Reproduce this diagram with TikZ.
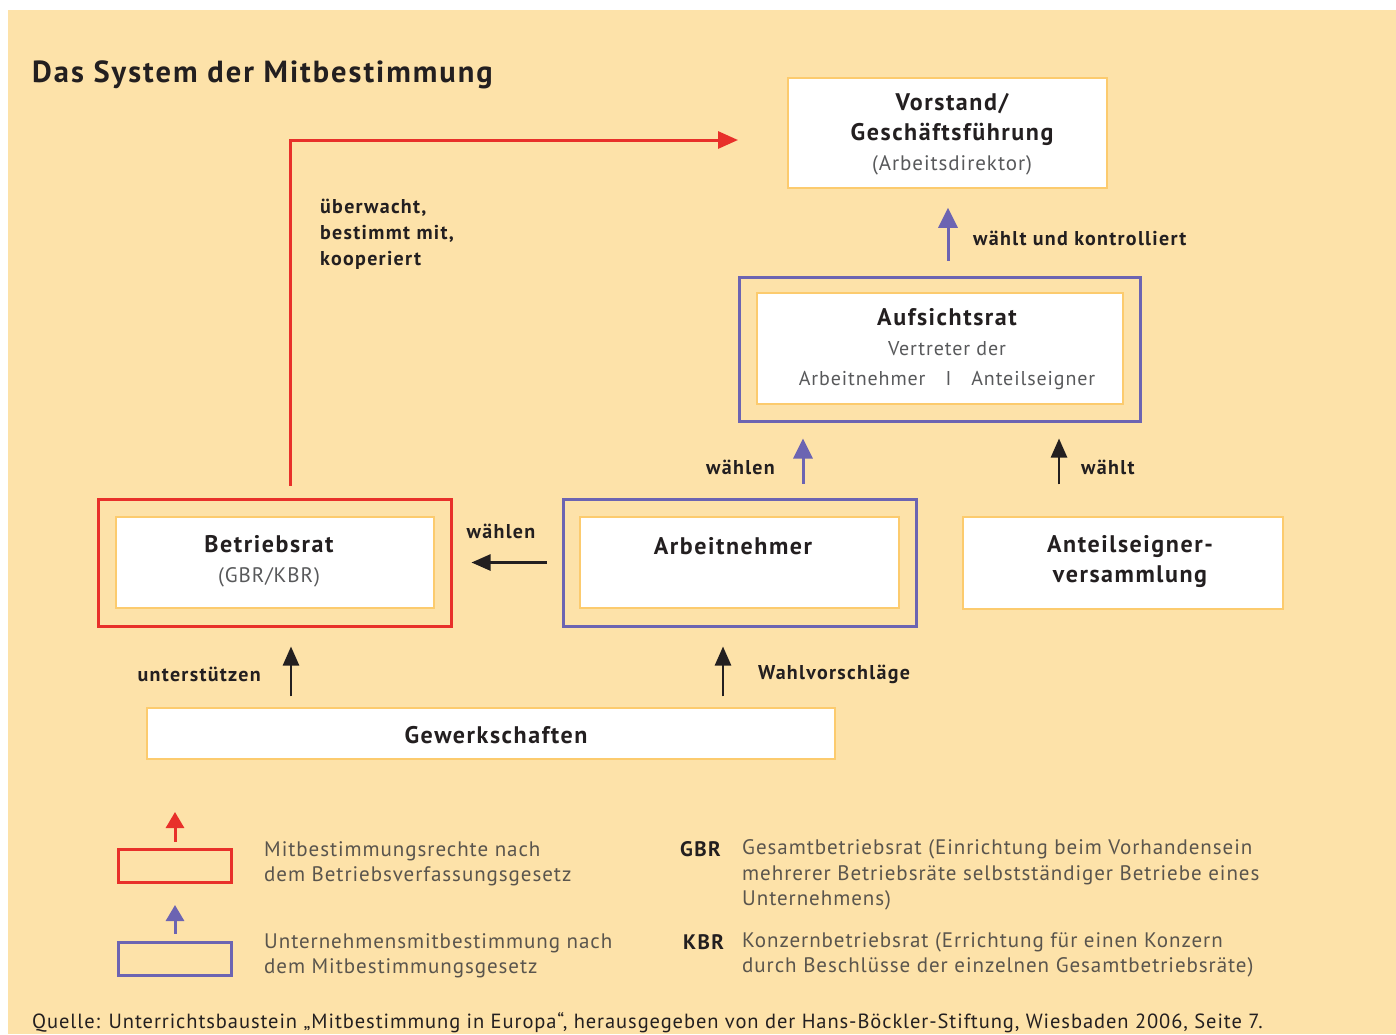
\documentclass[tikz,border=0pt]{standalone}
\usepackage{fontspec}
\setmainfont{PT Sans}[LetterSpace=4.5,BoldFeatures={LetterSpace=6.5}]
\usetikzlibrary{arrows.meta,calc}
\definecolor{bg}{HTML}{FDE2A9}
\definecolor{boxline}{HTML}{FCCB6E}
\definecolor{myred}{HTML}{E8302A}
\definecolor{myblue}{HTML}{6C64B2}
\definecolor{txt}{HTML}{231F20}
\definecolor{graytxt}{HTML}{58595B}
\definecolor{legtxt}{HTML}{5A554D}
\begin{document}
\begin{tikzpicture}[x=1pt,y=-1pt,
  whitebox/.style={draw=boxline,line width=1.5pt,fill=white,rectangle,inner sep=0pt},
  redframe/.style={draw=myred,line width=3pt,rectangle,inner sep=0pt},
  blueframe/.style={draw=myblue,line width=3pt,rectangle,inner sep=0pt},
  boxtext/.style={font=\fontsize{24}{30}\selectfont\bfseries,text=txt,align=center},
  edgelabel/.style={font=\fontsize{20}{26}\selectfont\bfseries,text=txt,inner sep=0pt},
  legendtext/.style={font=\fontsize{21}{25.5}\selectfont,text=legtxt,align=left,inner sep=0pt},
  redarrow/.style={draw=myred,line width=3pt,-{Triangle[length=20pt,width=17pt]}},
  bluearrow/.style={draw=myblue,line width=3pt,-{Triangle[length=20pt,width=19pt]}},
  blackarrow/.style={draw=txt,line width=2.5pt,-{Triangle[length=19pt,width=16pt]}},
  smallred/.style={draw=myred,line width=3pt,-{Triangle[length=16pt,width=18pt]}},
  smallblue/.style={draw=myblue,line width=3pt,-{Triangle[length=16pt,width=18pt]}},
]
\useasboundingbox (0,0) rectangle (1396,1034);
\fill[white] (0,0) rectangle (1396,1034);
\fill[bg] (8,10) rectangle (1396,1034);

% title
\node[anchor=west,inner sep=0pt,font=\fontsize{30.5}{36}\selectfont\bfseries,text=txt] (title) at (32,75) {Das System der Mitbestimmung};

% Vorstand
\node[whitebox,minimum width=319pt,minimum height=110pt] (vs) at (947.5,133) {};
\node[boxtext] (vstext) at (952,134)
  {Vorstand/\\Geschäftsführung\\{\fontsize{21}{30}\selectfont\mdseries\color{graytxt}(Arbeitsdirektor)}};

% Aufsichtsrat
\node[blueframe,minimum width=401pt,minimum height=144pt] (ar) at (939.5,349) {};
\node[whitebox,minimum width=366pt,minimum height=111pt] (ari) at (940,348.5) {};
\node[boxtext] (artext) at (947,349)
  {Aufsichtsrat\\{\fontsize{20}{30}\selectfont\mdseries\color{graytxt}Vertreter der}\\{\fontsize{20}{30}\selectfont\mdseries\color{graytxt}Arbeitnehmer\hspace{20pt}I\hspace{20pt}Anteilseigner}};

% Betriebsrat
\node[redframe,minimum width=353pt,minimum height=127pt] (br) at (274.5,562.5) {};
\node[whitebox,minimum width=318pt,minimum height=91pt] (bri) at (275,562.5) {};
\node[boxtext] (brtext) at (269,561)
  {Betriebsrat\\{\fontsize{21}{30}\selectfont\mdseries\color{graytxt}(GBR/KBR)}};

% Arbeitnehmer
\node[blueframe,minimum width=353pt,minimum height=127pt] (an) at (739.5,562.5) {};
\node[whitebox,minimum width=319pt,minimum height=91pt] (ani) at (739.5,562.5) {};
\node[boxtext] (antext) at (733,546) {Arbeitnehmer};

% Anteilseignerversammlung
\node[whitebox,minimum width=320pt,minimum height=92pt] (ae) at (1123,563) {};
\node[boxtext] (aetext) at (1130,562) {Anteilseigner-\\versammlung};

% Gewerkschaften
\node[whitebox,minimum width=688pt,minimum height=51pt] (gw) at (491,733.5) {};
\node[boxtext] (gwtext) at (496,735) {Gewerkschaften};

% connectors
\coordinate (xr) at (290,0);
\coordinate (redend) at (738,140);
\draw[redarrow,shorten <=12pt] (br.north -| xr) |- (redend);
\node[edgelabel,anchor=west,align=left] (lbl1) at (320,234) {überwacht,\\bestimmt mit,\\kooperiert};

\coordinate (xv) at (948,0);
\draw[bluearrow,shorten <=15pt,shorten >=19pt] (ar.north -| xv) -- (vs.south -| xv);
\node[edgelabel,anchor=west] (lbl2) at (973,238) {wählt und kontrolliert};

\coordinate (xw) at (803,0);
\draw[bluearrow,shorten <=14pt,shorten >=16pt] (an.north -| xw) -- (ar.south -| xw);
\node[edgelabel,anchor=east] (lbl3) at (775,467) {wählen};

\coordinate (xk) at (1059,0);
\draw[blackarrow,shorten <=32pt,shorten >=16pt] (ae.north -| xk) -- (ar.south -| xk);
\node[edgelabel,anchor=west] (lbl4) at (1081,467) {wählt};

\draw[blackarrow,shorten <=15pt,shorten >=19pt] (an.west) -- (br.east);
\node[edgelabel] (lbl5) at (501,531) {wählen};

\coordinate (xu) at (291,0);
\draw[blackarrow,shorten <=11pt,shorten >=19pt] (gw.north -| xu) -- (br.south -| xu);
\node[edgelabel,anchor=east] (lbl6) at (261,674) {unterstützen};

\coordinate (xp) at (723,0);
\draw[blackarrow,shorten <=11pt,shorten >=19pt] (gw.north -| xp) -- (an.south -| xp);
\node[edgelabel,anchor=west] (lbl7) at (758,674) {Wahlvorschläge};

% legend
\node[redframe,minimum width=113pt,minimum height=33pt] (lr) at (174.5,865.5) {};
\coordinate (lrtip) at (175,812);
\draw[smallred,shorten <=6pt] (lr.north -| lrtip) -- (lrtip);
\node[legendtext,anchor=west] (lt1) at (264,864) {Mitbestimmungsrechte nach\\dem Betriebsverfassungsgesetz};

\node[blueframe,minimum width=113pt,minimum height=33pt] (lb) at (174.5,958.5) {};
\coordinate (lbtip) at (175,905);
\draw[smallblue,shorten <=7pt] (lb.north -| lbtip) -- (lbtip);
\node[legendtext,anchor=west] (lt2) at (264,956) {Unternehmensmitbestimmung nach\\dem Mitbestimmungsgesetz};

\node[edgelabel,anchor=west,font=\fontsize{21}{26}\selectfont\bfseries] (gbr) at (680,849) {GBR};
\node[legendtext,anchor=west] (gbrt) at (742,875) {Gesamtbetriebsrat (Einrichtung beim Vorhandensein\\mehrerer Betriebsräte selbstständiger Betriebe eines\\Unternehmens)};
\node[edgelabel,anchor=west,font=\fontsize{21}{26}\selectfont\bfseries] (kbr) at (683,942) {KBR};
\node[legendtext,anchor=west] (kbrt) at (742,955) {Konzernbetriebsrat (Errichtung für einen Konzern\\durch Beschlüsse der einzelnen Gesamtbetriebsräte)};

% source
\node[anchor=west,inner sep=0pt,font=\fontsize{20.5}{24}\selectfont,text=txt] (src) at (32,1023)
  {Quelle: Unterrichtsbaustein „Mitbestimmung in Europa“, herausgegeben von der Hans-Böckler-Stiftung, Wiesbaden 2006, Seite 7.};
\end{tikzpicture}
\end{document}
